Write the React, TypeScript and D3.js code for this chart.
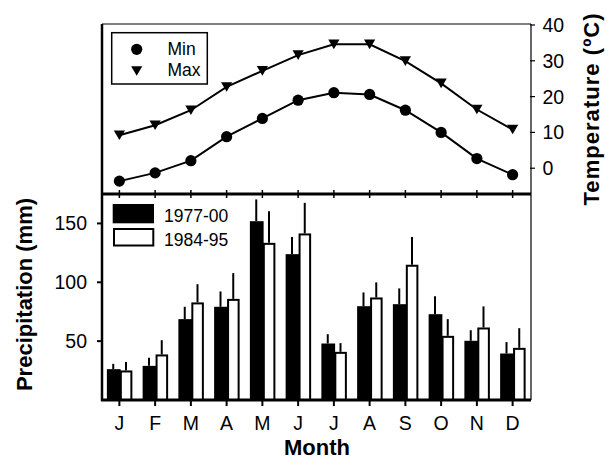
import React from "react";
import * as d3 from "d3";

const monthLabels = ["J", "F", "M", "A", "M", "J", "J", "A", "S", "O", "N", "D"];
const tempMin = [-3.6, -1.3, 2.1, 8.8, 13.9, 19.0, 21.1, 20.6, 16.2, 10.0, 2.7, -1.8];
const tempMax = [9.2, 12.0, 16.2, 22.7, 27.2, 31.6, 34.6, 34.6, 29.9, 23.7, 16.4, 10.8];
const precipA = [26.2, 29.0, 68.7, 79.2, 151.9, 123.9, 48.0, 79.7, 81.4, 72.9, 50.3, 39.5];
const precipAErr = [4.5, 6.8, 10.5, 13.0, 18.5, 14.5, 7.9, 11.7, 13.4, 15.3, 9.0, 9.7];
const precipB = [25.1, 38.7, 82.9, 85.9, 133.5, 141.5, 40.9, 87.1, 114.9, 54.5, 61.6, 44.3];
const precipBErr = [7.1, 12.1, 15.5, 21.9, 26.9, 26.0, 7.4, 12.8, 23.5, 14.2, 17.9, 16.7];
const tempTicks = [0, 10, 20, 30, 40];
const precipTicks = [50, 100, 150];
const seriesNames = ["1977-00", "1984-95"];

const FONT = "'Liberation Sans', Arial, sans-serif";

export default function App() {
  const left = 102;
  const right = 531;
  const topY = 24;
  const midY = 194;
  const botY = 400;

  const x = d3.scaleBand<number>().domain(d3.range(12)).range([101.5, 530.5]).padding(0);
  const cx = (i: number) => (x(i) as number) + x.bandwidth() / 2;
  const sub = d3.scaleBand<string>().domain(seriesNames).range([-12.5, 13]).padding(0);
  const yT = d3.scaleLinear().domain([-7.2, 40]).range([midY, 25]);
  const yP = d3.scaleLinear().domain([0, 175]).range([botY, midY]);

  const line = d3
    .line<number>()
    .x((_, i) => cx(i))
    .y((d) => yT(d));

  const tri = (px: number, py: number) => {
    const w = 5.6;
    const h = 4.8;
    return `M${px - w},${py - h}L${px + w},${py - h}L${px},${py + h}Z`;
  };

  const bw = sub.bandwidth();

  return (
    <svg width={609} height={461} style={{ display: "block", position: "absolute", left: 0, top: 0 }} fontFamily={FONT}>
      <rect x={0} y={0} width={609} height={461} fill="white" />

      {/* Bars */}
      {precipA.map((v, i) => {
        const x0 = cx(i) + (sub("1977-00") as number);
        return (
          <g key={"a" + i}>
            <rect x={x0} y={yP(v)} width={bw + 1} height={botY - yP(v)} fill="black" />
            <line
              x1={x0 + bw / 2}
              x2={x0 + bw / 2}
              y1={yP(v)}
              y2={yP(v + precipAErr[i])}
              stroke="black"
              strokeWidth={2}
            />
          </g>
        );
      })}
      {precipB.map((v, i) => {
        const x0 = cx(i) + (sub("1984-95") as number);
        return (
          <g key={"b" + i}>
            <line
              x1={x0 + bw / 2}
              x2={x0 + bw / 2}
              y1={yP(v)}
              y2={yP(v + precipBErr[i])}
              stroke="black"
              strokeWidth={2}
            />
            <rect
              x={x0 + 1.2}
              y={yP(v) + 1}
              width={bw - 2.2}
              height={botY - yP(v) - 1}
              fill="white"
              stroke="black"
              strokeWidth={2}
            />
          </g>
        );
      })}

      {/* Temperature lines */}
      <path d={line(tempMax) as string} fill="none" stroke="black" strokeWidth={2} />
      <path d={line(tempMin) as string} fill="none" stroke="black" strokeWidth={2} />
      {tempMin.map((v, i) => (
        <circle key={"c" + i} cx={cx(i)} cy={yT(v)} r={5.6} fill="black" />
      ))}
      {tempMax.map((v, i) => (
        <path key={"t" + i} d={tri(cx(i), yT(v))} fill="black" />
      ))}

      {/* Frame */}
      <line x1={left} x2={right} y1={topY} y2={topY} stroke="black" strokeWidth={1.2} />
      <line x1={right} x2={right} y1={topY} y2={botY} stroke="black" strokeWidth={1.2} />
      <line x1={left} x2={left} y1={topY} y2={botY + 1} stroke="black" strokeWidth={2.5} />
      <line x1={left} x2={right} y1={midY} y2={midY} stroke="black" strokeWidth={2.8} />
      <line x1={left - 1} x2={right} y1={botY} y2={botY} stroke="black" strokeWidth={2.8} />

      {/* Month ticks */}
      {d3.range(12).map((i) => (
        <g key={"mt" + i}>
          <line x1={cx(i)} x2={cx(i)} y1={midY - 4} y2={midY + 4} stroke="black" strokeWidth={1.5} />
          <line x1={cx(i)} x2={cx(i)} y1={botY} y2={botY + 6} stroke="black" strokeWidth={2} />
          <text x={cx(i)} y={430} textAnchor="middle" fontSize={19.5}>
            {monthLabels[i]}
          </text>
        </g>
      ))}

      {/* Right temperature axis */}
      {tempTicks.map((t) => (
        <g key={"tt" + t}>
          <line x1={right - 1} x2={right + 4} y1={yT(t)} y2={yT(t)} stroke="black" strokeWidth={1.2} />
          <text x={542.5} y={yT(t)} dy="0.36em" fontSize={19.5}>
            {t}
          </text>
        </g>
      ))}

      {/* Left precipitation axis */}
      {precipTicks.map((t) => (
        <g key={"pt" + t}>
          <line x1={left - 5} x2={left} y1={yP(t)} y2={yP(t)} stroke="black" strokeWidth={2} />
          <text x={87} y={yP(t)} dy="0.36em" textAnchor="end" fontSize={19.5}>
            {t}
          </text>
        </g>
      ))}

      {/* Titles */}
      <text
        transform="translate(32,294.5) rotate(-90)"
        textAnchor="middle"
        fontSize={22}
        fontWeight="bold"
      >
        Precipitation (mm)
      </text>
      <text
        transform="translate(598.5,109.5) rotate(-90)"
        textAnchor="middle"
        fontSize={22}
        fontWeight="bold"
        textLength={192}
        lengthAdjust="spacing"
      >
        Temperature (ºC)
      </text>
      <text x={317} y={455} textAnchor="middle" fontSize={22} fontWeight="bold">
        Month
      </text>

      {/* Top legend */}
      <rect x={111.7} y={32.7} width={95.6} height={51.3} fill="white" stroke="black" strokeWidth={1.5} />
      <circle cx={136.7} cy={49.3} r={5.6} fill="black" />
      <path d={tri(136.7, 71)} fill="black" />
      <text x={167.5} y={55} fontSize={17.5}>
        Min
      </text>
      <text x={167.5} y={76} fontSize={17.5}>
        Max
      </text>

      {/* Bottom legend */}
      <rect x={112.7} y={204} width={41.3} height={19.3} fill="black" />
      <rect x={114} y={229} width={39.3} height={16.5} fill="white" stroke="black" strokeWidth={2} />
      <text x={164} y={221.7} fontSize={17.5}>
        {seriesNames[0]}
      </text>
      <text x={164} y={246} fontSize={17.5}>
        {seriesNames[1]}
      </text>
    </svg>
  );
}
